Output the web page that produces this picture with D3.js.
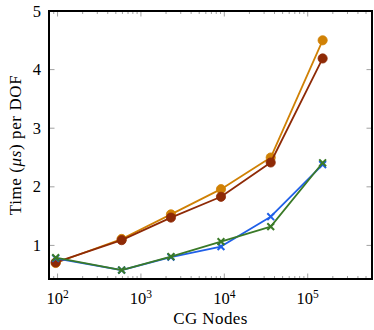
<!DOCTYPE html>
<html><head><meta charset="utf-8">
<script src="https://cdn.jsdelivr.net/npm/d3@7"></script>
<style>body{margin:0;background:#fff}svg{display:block}text{font-family:"Liberation Serif","DejaVu Serif",serif}</style>
</head><body>
<svg id="c" width="374" height="330"></svg>
<script>
const nodes = [95, 587, 2290, 9120, 36000, 151000];
const seriesNames = ["orange", "darkred", "blue", "green"];
const orangeVals = [0.70, 1.11, 1.53, 1.96, 2.50, 4.50];
const darkredVals = [0.71, 1.09, 1.475, 1.83, 2.415, 4.19];
const blueVals = [0.78, 0.58, 0.80, 0.98, 1.49, 2.38];
const greenVals = [0.79, 0.58, 0.81, 1.065, 1.32, 2.41];
const xTickExps = [2, 3, 4, 5];
const yTicks = [1, 2, 3, 4, 5];

const series = [
  {vals: orangeVals, color: "#d08105", mark: "circle"},
  {vals: darkredVals, color: "#8e2a06", mark: "circle"},
  {vals: blueVals, color: "#1f5fe8", mark: "x"},
  {vals: greenVals, color: "#3a7a28", mark: "x"}
];

const L = 49, R = 372, T = 11, B = 279;
const x = d3.scaleLog().domain([79, 590000]).range([L, R]);
const y = d3.scaleLinear().domain([0.427, 5]).range([B, T]);
const svg = d3.select("#c");

// ticks
const tickG = svg.append("g").attr("stroke", "#8a8a8a").attr("stroke-width", 0.8);
const minor = [];
for (let e = 1; e <= 5; e++) for (let m = 2; m <= 9; m++) { const v = m * Math.pow(10, e); if (v > 79 && v < 590000) minor.push(v); }
minor.forEach(v => {
  tickG.append("line").attr("x1", x(v)).attr("x2", x(v)).attr("y1", B).attr("y2", B - 3);
  tickG.append("line").attr("x1", x(v)).attr("x2", x(v)).attr("y1", T).attr("y2", T + 3);
});
xTickExps.forEach(e => {
  const v = Math.pow(10, e);
  tickG.append("line").attr("x1", x(v)).attr("x2", x(v)).attr("y1", B).attr("y2", B - 5.5);
  tickG.append("line").attr("x1", x(v)).attr("x2", x(v)).attr("y1", T).attr("y2", T + 5.5);
});
yTicks.forEach(v => {
  tickG.append("line").attr("x1", L).attr("x2", L + 5.5).attr("y1", y(v)).attr("y2", y(v));
  tickG.append("line").attr("x1", R).attr("x2", R - 5.5).attr("y1", y(v)).attr("y2", y(v));
});

// lines and marks
const line = d3.line().x((d, i) => x(nodes[i])).y(d => y(d));
series.forEach(s => {
  const g = svg.append("g");
  g.append("path").attr("d", line(s.vals)).attr("fill", "none").attr("stroke", s.color).attr("stroke-width", 1.8).attr("stroke-linejoin", "round");
  s.vals.forEach((v, i) => {
    const cx = x(nodes[i]), cy = y(v);
    if (s.mark === "circle") {
      g.append("circle").attr("cx", cx).attr("cy", cy).attr("r", 4.6).attr("fill", s.color).attr("stroke", s.color).attr("stroke-width", 0.8);
    } else {
      const r = 3.4;
      g.append("path").attr("d", `M${cx-r},${cy-r}L${cx+r},${cy+r}M${cx-r},${cy+r}L${cx+r},${cy-r}`).attr("stroke", s.color).attr("stroke-width", 2);
    }
  });
});

// frame
svg.append("rect").attr("x", L).attr("y", T).attr("width", R - L).attr("height", B - T).attr("fill", "none").attr("stroke", "#000").attr("stroke-width", 2);

// tick labels
xTickExps.forEach(e => {
  const t = svg.append("text").attr("x", x(Math.pow(10, e))).attr("y", 304).attr("text-anchor", "middle").attr("font-size", 16.5);
  t.append("tspan").text("10");
  t.append("tspan").attr("dy", -6.5).attr("font-size", 11.5).text(e);
});
yTicks.forEach(v => {
  svg.append("text").attr("x", 41).attr("y", y(v) + 5.5).attr("text-anchor", "end").attr("font-size", 16.5).text(v);
});

// axis labels
svg.append("text").attr("x", (L + R) / 2).attr("y", 324).attr("text-anchor", "middle").attr("font-size", 17).attr("letter-spacing", 0.4).text("CG Nodes");
const yl = svg.append("text").attr("transform", `translate(21,${(T + B) / 2}) rotate(-90)`).attr("text-anchor", "middle").attr("font-size", 17).attr("letter-spacing", 0.6);
yl.append("tspan").text("Time (");
yl.append("tspan").attr("font-style", "italic").text("μs");
yl.append("tspan").text(") per DOF");
</script>
</body></html>
